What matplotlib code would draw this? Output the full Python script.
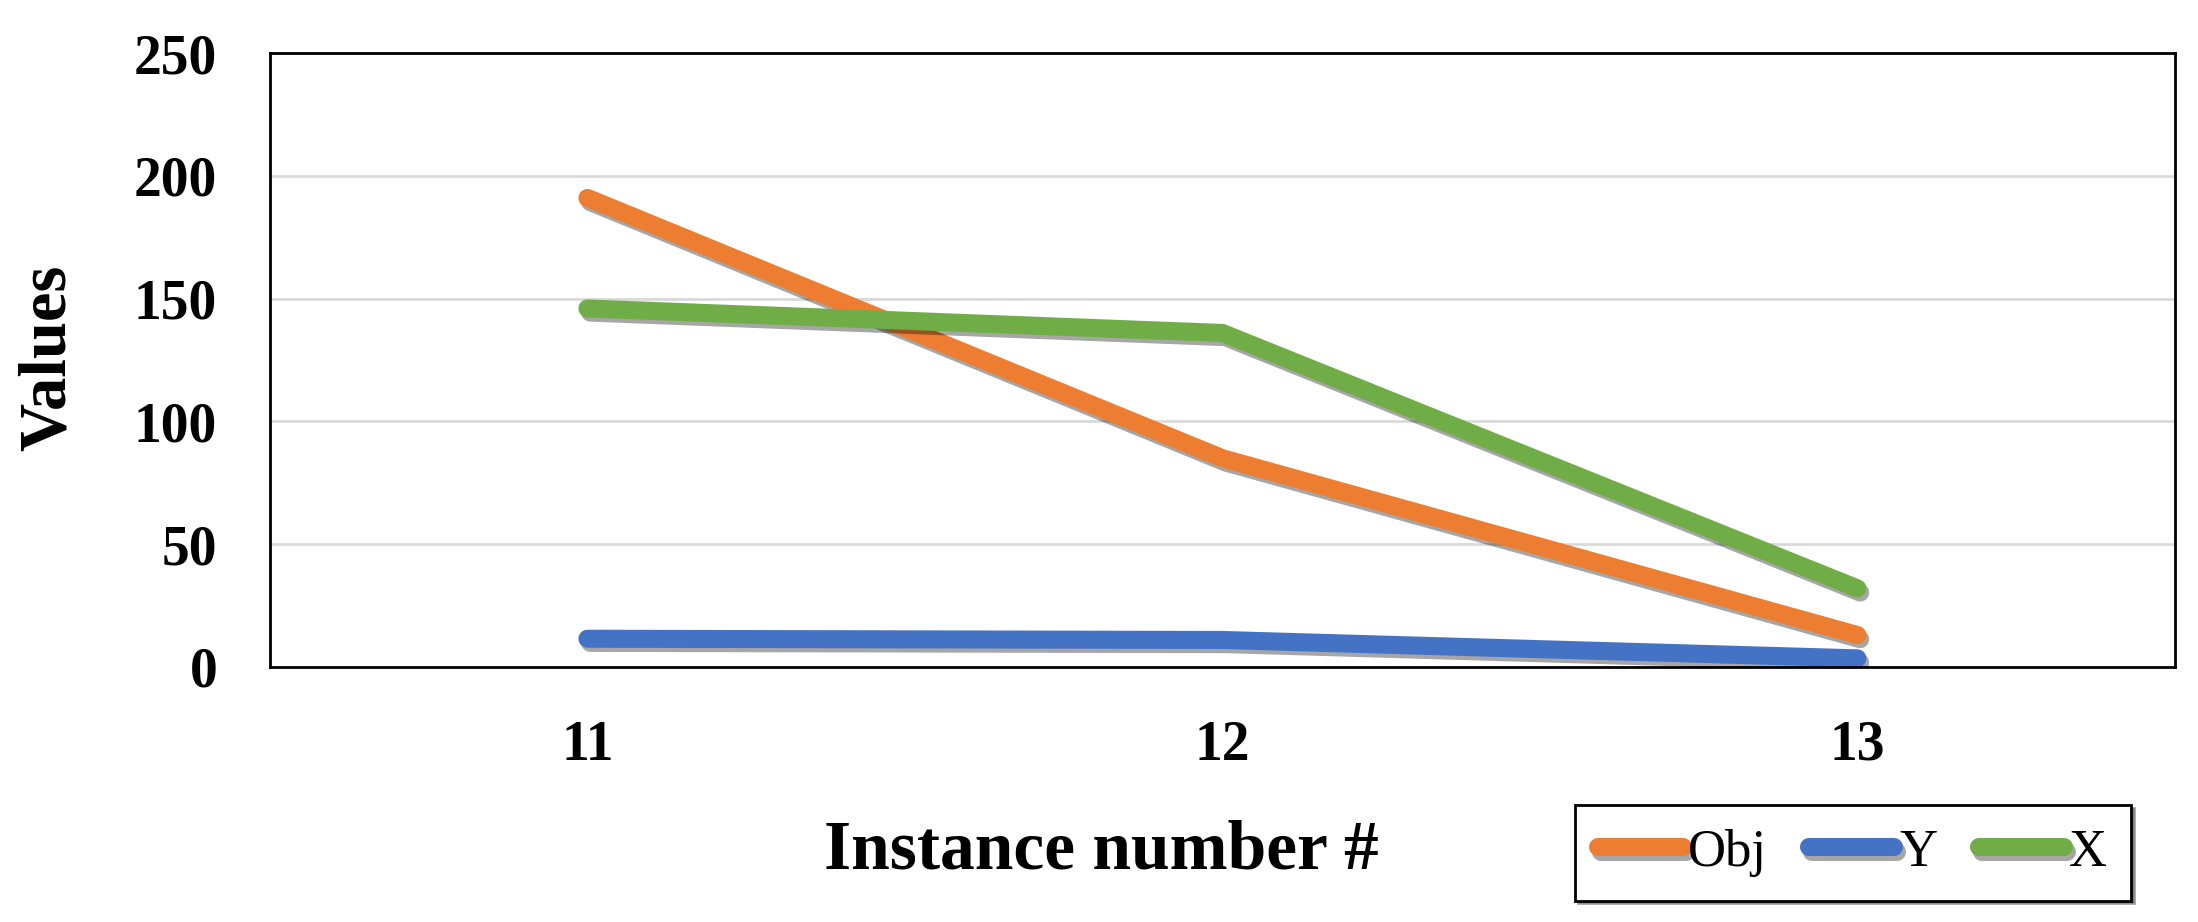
# line chart: Obj / Y / X over instance number
import matplotlib.pyplot as plt
import matplotlib.patheffects as pe

# data
instances = ['11', '12', '13']
obj = [191, 85, 13]
y_vals = [11.5, 11, 3.5]
x_vals = [146, 136, 32]

colors = {'Obj': '#ED7D31', 'Y': '#4472C4', 'X': '#70AD47'}

plt.rcParams['font.family'] = ['Liberation Serif', 'DejaVu Serif']

fig = plt.figure(figsize=(21.98, 9.22), dpi=100)
ax = fig.add_axes([0.1228, 0.2766, 0.8667, 0.6659])

shadow = [pe.SimpleLineShadow(offset=(2, -3), shadow_color='black', alpha=0.35), pe.Normal()]
pos = range(len(instances))
for name, vals in [('Obj', obj), ('Y', y_vals), ('X', x_vals)]:
    ax.plot(pos, vals, color=colors[name], lw=13, solid_capstyle='round',
            solid_joinstyle='miter', label=name, path_effects=shadow)

ax.set_xlim(-0.5, 2.5)
ax.set_ylim(0, 250)
ax.set_yticks([0, 50, 100, 150, 200, 250])
ax.set_xticks(list(pos))
ax.set_xticklabels(instances)
ax.grid(axis='y', color='#D9D9D9', lw=2)
ax.set_axisbelow(True)
ax.tick_params(length=0, labelsize=40, pad=38)
for lab in ax.get_xticklabels() + ax.get_yticklabels():
    lab.set_fontweight('bold')
for sp in ax.spines.values():
    sp.set_linewidth(2)
    sp.set_color('black')

fig.text(0.022, 0.612, 'Values', rotation=90, ha='center', va='center',
         fontsize=48, fontweight='bold')
fig.text(0.501, 0.076, 'Instance number #', ha='center', va='center',
         fontsize=50, fontweight='bold')

leg = fig.legend(loc='center', bbox_to_anchor=(0.843, 0.075), ncol=3,
                 fontsize=38, frameon=True, fancybox=False, shadow=True,
                 handlelength=1.6, handletextpad=0.1, columnspacing=0.8,
                 borderpad=0.45)
leg.get_frame().set_edgecolor('black')
leg.get_frame().set_linewidth(2)

plt.savefig('out.png', dpi=100)
